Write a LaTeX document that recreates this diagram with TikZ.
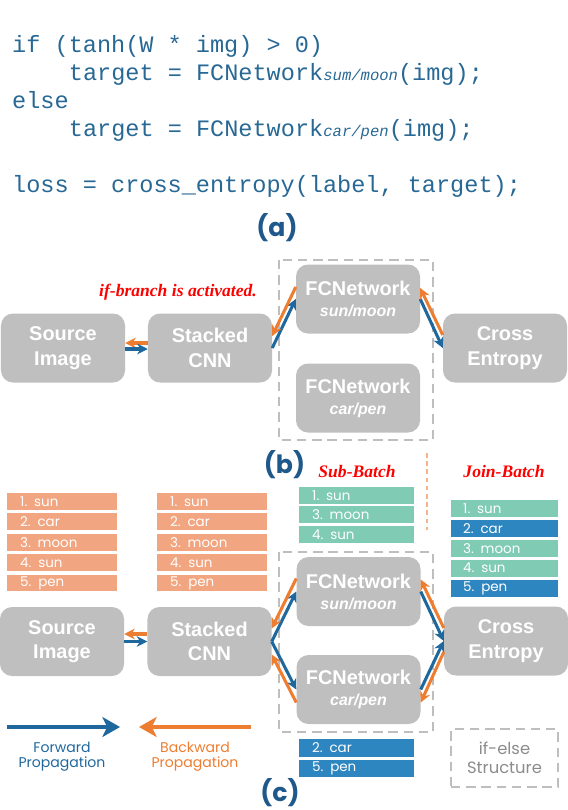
\documentclass[tikz,border=0pt]{standalone}
\usepackage{fontspec}
\setmainfont{Liberation Sans}
\newfontfamily\codefont{Liberation Mono}
\newfontfamily\listfont{Poppins}
\newfontfamily\notefont{Liberation Serif}
\usetikzlibrary{arrows.meta}

\definecolor{boxgray}{RGB}{191,191,191}
\definecolor{fwdblue}{RGB}{31,104,158}
\definecolor{bwdorange}{RGB}{237,125,49}
\definecolor{salmon}{RGB}{241,165,128}
\definecolor{mint}{RGB}{127,203,180}
\definecolor{rowblue}{RGB}{46,134,193}
\definecolor{codeblue}{RGB}{40,104,148}
\definecolor{labelblue}{RGB}{31,88,138}
\definecolor{dashgray}{RGB}{190,190,190}
\definecolor{notegray}{RGB}{140,140,140}
\definecolor{dividerorange}{RGB}{245,180,140}

\newcommand{\codesub}[1]{{\fontsize{13.3}{16}\selectfont\itshape #1}}

\begin{document}
\begin{tikzpicture}[x=0.03cm, y=-0.03cm,
  block/.style={fill=boxgray, rounded corners=0.36cm, minimum width=3.72cm,
    minimum height=2.07cm, inner sep=0pt, text=white, align=center,
    font=\fontsize{17}{21}\selectfont\bfseries},
  code/.style={anchor=base west, inner sep=0pt, text=codeblue,
    font=\codefont\fontsize{20.1}{24}\selectfont},
  panel/.style={text=labelblue, font=\listfont\bfseries\fontsize{21.5}{24}\selectfont},
  note/.style={text=red, font=\notefont\bfseries\itshape\fontsize{15}{18}\selectfont},
  row/.style={anchor=west, inner ysep=0pt, minimum height=0.5cm, text=white,
    align=left, font=\listfont\fontsize{11.5}{12}\selectfont},
  salmonrow/.style={row, fill=salmon, text width=2.52cm, inner xsep=0.39cm},
  subrow/.style={row, text width=2.67cm, inner xsep=0.39cm},
  joinrow/.style={row, minimum height=0.51cm, text width=2.49cm, inner xsep=0.36cm},
  fwd/.style={draw=fwdblue, line width=2.6pt, -{Stealth[length=9pt,width=9pt]}},
  bwd/.style={draw=bwdorange, line width=2.6pt, -{Stealth[length=9pt,width=9pt]}},
  groupbox/.style={draw=dashgray, line width=1pt, dash pattern=on 8pt off 5pt},
  legend/.style={align=center, font=\listfont\fontsize{12}{13}\selectfont}]

  \useasboundingbox (0,0) rectangle (568,810);

  % (a) the program
  \node[code] (line1) at (12,52) {if (tanh(W * img) > 0)};
  \node[code] (line2) at (68.7,80) {target = FCNetwork\codesub{sum/moon}(img);};
  \node[code] (line3) at (12,108) {else};
  \node[code] (line4) at (68.7,136) {target = FCNetwork\codesub{car/pen}(img);};
  \node[code] (line5) at (12,192) {loss = cross\_entropy(label, target);};
  \node[panel] (panel_a) at (277,228) {(a)};

  % (b) one branch
  \draw[groupbox] (279,260) rectangle (433,440);
  \node[block] (src_b) at (63,348) {Source\\Image};
  \node[block] (cnn_b) at (210,348) {Stacked\\CNN};
  \node[block] (fc1_b) at (358,299) {FCNetwork\\[-3pt]{\fontsize{13.6}{21}\selectfont\itshape sun/moon}};
  \node[block] (fc2_b) at (358,398) {FCNetwork\\[-3pt]{\fontsize{13.6}{21}\selectfont\itshape car/pen}};
  \node[block] (ce_b) at (505,348) {Cross\\Entropy};
  \node[note] (branchnote) at (178,292) {if-branch is activated.};
  \draw[bwd] ([shift={(0,-5)}]cnn_b.west) -- ([shift={(0,-5)}]src_b.east);
  \draw[fwd] ([shift={(0,1)}]src_b.east) -- ([shift={(0,1)}]cnn_b.west);
  \draw[fwd] (cnn_b.east) -- (fc1_b.west);
  \draw[bwd] ([shift={(0,-12)}]fc1_b.west) -- ([shift={(0,-12)}]cnn_b.east);
  \draw[fwd] (fc1_b.east) -- (ce_b.west);
  \draw[bwd] ([shift={(0,-13)}]ce_b.west) -- ([shift={(0,-11)}]fc1_b.east);
  \node[panel] (panel_b) at (284.5,465) {(b)};

  % (c) batches split and joined
  \node[note] (subnote) at (357,471) {Sub-Batch};
  \node[note] (joinnote) at (504,471) {Join-Batch};
  \draw[draw=dividerorange, line width=1.3pt, dash pattern=on 4pt off 3pt] (427,453) -- (427,530);

  \node[salmonrow] (s1) at (7,501.5) {1. sun};
  \node[salmonrow] (s2) at (7,521.8) {2. car};
  \node[salmonrow] (s3) at (7,542.2) {3. moon};
  \node[salmonrow] (s4) at (7,562.5) {4. sun};
  \node[salmonrow] (s5) at (7,583) {5. pen};
  \node[salmonrow] (c1) at (157,501.5) {1. sun};
  \node[salmonrow] (c2) at (157,521.8) {2. car};
  \node[salmonrow] (c3) at (157,542.2) {3. moon};
  \node[salmonrow] (c4) at (157,562.5) {4. sun};
  \node[salmonrow] (c5) at (157,583) {5. pen};

  \node[subrow, fill=mint] (sub1) at (299,495.5) {1. sun};
  \node[subrow, fill=mint] (sub2) at (299,514.5) {3. moon};
  \node[subrow, fill=mint] (sub3) at (299,534.7) {4. sun};

  \node[joinrow, fill=mint] (join1) at (451,508.7) {1. sun};
  \node[joinrow, fill=rowblue] (join2) at (451,528.3) {2. car};
  \node[joinrow, fill=mint] (join3) at (451,548.3) {3. moon};
  \node[joinrow, fill=mint] (join4) at (451,568) {4. sun};
  \node[joinrow, fill=rowblue] (join5) at (451,588) {5. pen};

  \draw[groupbox] (279,552) rectangle (433,732);
  \node[block] (src_c) at (62,641.5) {Source\\Image};
  \node[block] (cnn_c) at (209.5,641.5) {Stacked\\CNN};
  \node[block] (fc1_c) at (358.5,591.5) {FCNetwork\\[-3pt]{\fontsize{13.6}{21}\selectfont\itshape sun/moon}};
  \node[block] (fc2_c) at (358.5,689.5) {FCNetwork\\[-3pt]{\fontsize{13.6}{21}\selectfont\itshape car/pen}};
  \node[block] (ce_c) at (506,641) {Cross\\Entropy};
  \draw[bwd] ([shift={(0,-7.5)}]cnn_c.west) -- ([shift={(0,-7.5)}]src_c.east);
  \draw[fwd] (src_c.east) -- (cnn_c.west);
  \draw[fwd] (cnn_c.east) -- (fc1_c.west);
  \draw[bwd] ([shift={(0,-13)}]fc1_c.west) -- ([shift={(0,-13)}]cnn_c.east);
  \draw[fwd] (cnn_c.east) -- (fc2_c.west);
  \draw[bwd] ([shift={(0,13)}]fc2_c.west) -- ([shift={(0,13)}]cnn_c.east);
  \draw[fwd] (fc1_c.east) -- (ce_c.west);
  \draw[bwd] ([shift={(0,-13)}]ce_c.west) -- ([shift={(0,-12)}]fc1_c.east);
  \draw[fwd] (fc2_c.east) -- (ce_c.west);
  \draw[bwd] ([shift={(0,11)}]ce_c.west) -- ([shift={(0,13)}]fc2_c.east);

  \node[subrow, minimum height=0.52cm, fill=rowblue] (alt1) at (299,748) {2. car};
  \node[subrow, minimum height=0.52cm, fill=rowblue] (alt2) at (299,768.5) {5. pen};

  % legend
  \coordinate (fwd_a) at (7,727);
  \coordinate (fwd_b) at (120,727);
  \coordinate (bwd_a) at (251,727);
  \coordinate (bwd_b) at (139,727);
  \draw[fwd, line width=3.4pt, -{Stealth[length=15pt,width=17pt,inset=4pt]}] (fwd_a) -- (fwd_b);
  \draw[bwd, line width=3.4pt, -{Stealth[length=15pt,width=17pt,inset=4pt]}] (bwd_a) -- (bwd_b);
  \node[legend, text=fwdblue] (fwdtext) at (62,757) {Forward\\Propagation};
  \node[legend, text=bwdorange] (bwdtext) at (195,757) {Backward\\Propagation};
  \node[groupbox, minimum width=3.21cm, minimum height=1.74cm, text=notegray,
    align=center, font=\listfont\fontsize{14}{16}\selectfont] (ifelse) at (504.5,758) {if-else\\Structure};
  \node[panel] (panel_c) at (280,793) {(c)};
\end{tikzpicture}
\end{document}
